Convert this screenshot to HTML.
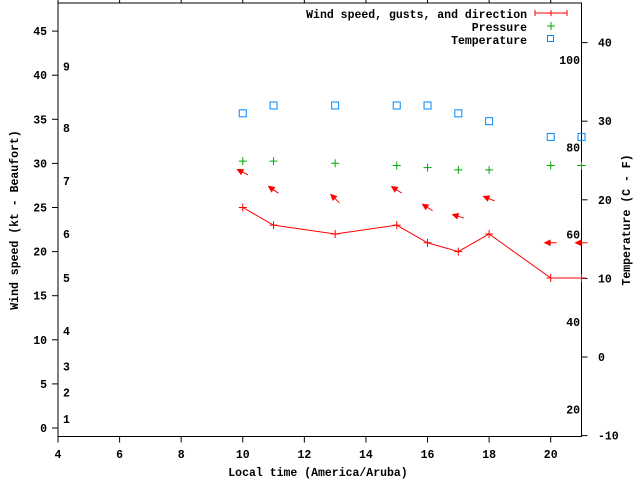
<!DOCTYPE html>
<html><head><meta charset="utf-8"><style>
body{margin:0;background:#fff}
svg text{font-family:"Liberation Mono",monospace;font-weight:bold;font-size:11.5px;fill:#000}
</style></head><body>
<svg id="chart" width="640" height="480" viewBox="0 0 640 480" xmlns="http://www.w3.org/2000/svg">
<rect width="640" height="480" fill="#fff"/>
<g id="axes"></g>
<g id="marks"></g>
<g>
<text x="527" y="18" text-anchor="end">Wind speed, gusts, and direction</text>
<line x1="535" y1="13" x2="567" y2="13" stroke="#f00"/>
<line x1="535" y1="10" x2="535" y2="16" stroke="#f00"/>
<line x1="567" y1="10" x2="567" y2="16" stroke="#f00"/>
<line x1="551" y1="10" x2="551" y2="16" stroke="#f00"/>
<text x="527" y="31" text-anchor="end">Pressure</text>
<path d="M547 26h8M551 22v8" stroke="#0a0"/>
<text x="527" y="44" text-anchor="end">Temperature</text>
<rect x="547.5" y="35.5" width="6" height="6" fill="none" stroke="#08f"/>
</g>
<text x="318" y="476" text-anchor="middle">Local time (America/Aruba)</text>
<text transform="translate(18,220) rotate(-90)" text-anchor="middle">Wind speed (kt - Beaufort)</text>
<text transform="translate(630,220) rotate(-90)" text-anchor="middle">Temperature (C - F)</text>
</svg>
<script>
const hours=[10,11,13,15,16,17,18,20,21];
const windSpeed=[25,23,22,23,21,20,22,17,17];
const gust=[29,27,26,27,25,24,26,21,21];
const windDirTo=[-27,-35,-45,-33,-33,-17,-22,0,0];
const pressure=[77,77,76.5,76,75.5,75,75,76,76];
const temperature=[31,32,32,32,32,31,30,28,28];
const xTicks=[4,6,8,10,12,14,16,18,20];
const yTicks=[0,5,10,15,20,25,30,35,40,45];
const y2Ticks=[-10,0,10,20,30,40];
const beaufortLabels=["1","2","3","4","5","6","7","8","9"];
const beaufortKt=[1,4,7,11,17,22,28,34,41];
const fahrenheitLabels=["20","40","60","80","100"];

const L=58,R=581.5,T=3,B=436.5;
const X=v=>L+(v-4)*(R-L)/17;
const Y=v=>428-v*8.82;
const Y2=v=>357-v*7.86;
const YF=f=>Y2((f-32)*5/9);
const YP=p=>148-(p-80)*4.37;
const NS="http://www.w3.org/2000/svg";
const axes=document.getElementById('axes'),marks=document.getElementById('marks');
function mk(tag,attrs,parent){const e=document.createElementNS(NS,tag);for(const k in attrs)e.setAttribute(k,attrs[k]);parent.appendChild(e);return e;}

let e=mk('path',{d:`M${L} ${T}H${R}V${B}H${L}Z`,fill:'none',stroke:'#000'},axes);


xTicks.forEach(t=>{
  const x=X(t);
  let l=mk('path',{d:`M${x} ${B}v6M${x} ${T}v-6`,stroke:'#000'},axes);
  
  
  let tx=mk('text',{x:x,y:458,'text-anchor':'middle'},axes);tx.textContent=t;
  
  
});
yTicks.forEach(t=>{
  const y=Y(t);
  let l=mk('path',{d:`M${L} ${y}h-6`,stroke:'#000'},axes);
  
  
  let tx=mk('text',{x:47,y:y+4,'text-anchor':'end'},axes);tx.textContent=t;
  
  
});
y2Ticks.forEach(t=>{
  const y=Y2(t);
  let l=mk('path',{d:`M${R} ${y}h6`,stroke:'#000'},axes);
  
  
  let tx=mk('text',{x:598,y:y+4},axes);tx.textContent=t;
  
  
});
beaufortLabels.forEach((s,i)=>{
  let tx=mk('text',{x:63,y:Y(beaufortKt[i])+4},axes);tx.textContent=s;
  
  
});
fahrenheitLabels.forEach(s=>{
  let tx=mk('text',{x:580,y:YF(+s)+4,'text-anchor':'end'},axes);tx.textContent=s;
  
  
});

// wind line
let pts=hours.map((h,i)=>`${X(h)},${Y(windSpeed[i])}`);
let pl=mk('polyline',{points:pts.join(' '),fill:'none',stroke:'#f00'},marks);


hours.forEach((h,i)=>{
  const x=X(h),y=Y(windSpeed[i]);
  let p=mk('path',{d:`M${x-4} ${y}h8M${x} ${y-4}v8`,stroke:'#f00'},marks);
  
  
  // arrow
  const a=windDirTo[i]*Math.PI/180, len=12;
  const cx=X(h), cy=Y(gust[i]);
  const dx=-Math.cos(a)*len, dy=Math.sin(a)*len; // points leftwards
  const hx=cx+dx/2, hy=cy+dy/2, tx=cx-dx/2, ty=cy-dy/2;
  const ang=Math.atan2(dy,dx);
  const h1x=hx-6*Math.cos(ang-0.45),h1y=hy-6*Math.sin(ang-0.45);
  const h2x=hx-6*Math.cos(ang+0.45),h2y=hy-6*Math.sin(ang+0.45);
  let ar=mk('path',{d:`M${tx} ${ty}L${hx} ${hy}M${hx} ${hy}L${h1x} ${h1y}L${h2x} ${h2y}Z`,stroke:'#f00',fill:'#f00'},marks);
  
  
  // pressure
  const py=YP(pressure[i]);
  let pp=mk('path',{d:`M${x-4} ${py}h8M${x} ${py-4}v8`,stroke:'#0a0'},marks);
  
  
  // temperature
  const ty2=Y2(temperature[i]);
  let r=mk('rect',{x:x-3.5,y:ty2-3.5,width:7,height:7,fill:'none',stroke:'#08f'},marks);
  
  
});
// wind line extension to right edge
let ext=mk('path',{d:`M${X(hours[hours.length-1])} ${Y(windSpeed[windSpeed.length-1])}H${R}`,stroke:'#f00'},marks);


</script>
</body></html>
